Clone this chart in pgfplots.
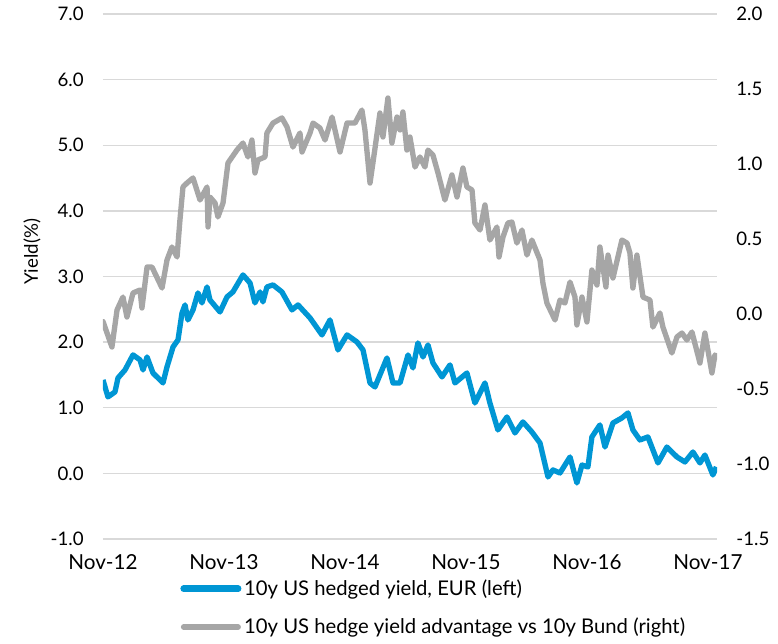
\documentclass[border=0pt]{standalone}
\usepackage{fontspec}
\setmainfont{Lato}
\usepackage{pgfplots}
\usepackage{pgfplotstable}
\pgfplotsset{compat=1.18}
\definecolor{cblue}{RGB}{0,150,212}
\definecolor{cgray}{RGB}{166,166,166}
\definecolor{cgrid}{RGB}{217,217,217}

\pgfplotstableread{
t v
0.000 1.424
0.041 1.165
0.099 1.241
0.124 1.454
0.182 1.576
0.248 1.805
0.306 1.729
0.331 1.576
0.364 1.774
0.413 1.530
0.496 1.378
0.529 1.622
0.579 1.927
0.620 2.034
0.653 2.445
0.678 2.567
0.702 2.338
0.744 2.491
0.785 2.750
0.818 2.598
0.860 2.841
0.884 2.643
0.967 2.460
1.025 2.689
1.074 2.765
1.157 3.024
1.215 2.902
1.256 2.598
1.298 2.765
1.322 2.613
1.355 2.841
1.405 2.872
1.479 2.765
1.562 2.491
1.612 2.567
1.711 2.369
1.810 2.110
1.876 2.338
1.942 1.881
2.017 2.110
2.099 2.003
2.149 1.881
2.207 1.378
2.248 1.317
2.347 1.759
2.397 1.378
2.455 1.378
2.521 1.805
2.562 1.607
2.603 1.988
2.645 1.774
2.686 1.957
2.727 1.683
2.802 1.470
2.868 1.653
2.909 1.378
3.008 1.530
3.074 1.073
3.157 1.378
3.198 1.073
3.264 0.662
3.339 0.860
3.405 0.616
3.471 0.784
3.545 0.631
3.612 0.463
3.678 -0.055
3.719 0.052
3.777 0.006
3.860 0.250
3.917 -0.146
3.959 0.128
4.008 0.098
4.041 0.555
4.107 0.738
4.149 0.402
4.215 0.768
4.289 0.845
4.339 0.921
4.380 0.662
4.438 0.509
4.504 0.555
4.587 0.159
4.661 0.402
4.744 0.250
4.810 0.174
4.876 0.326
4.934 0.159
4.975 0.280
5.041 -0.024
5.070 0.098
}\bluedata

\pgfplotstableread{
t v
0.000 -0.05
0.074 -0.22
0.116 0.027
0.165 0.113
0.198 -0.02
0.248 0.14
0.306 0.16
0.322 0.04
0.364 0.313
0.405 0.313
0.488 0.173
0.529 0.36
0.570 0.447
0.612 0.38
0.636 0.627
0.661 0.847
0.694 0.873
0.744 0.907
0.802 0.76
0.860 0.847
0.868 0.58
0.884 0.78
0.926 0.74
0.950 0.647
0.992 0.74
1.033 1.007
1.107 1.093
1.157 1.14
1.198 1.047
1.231 1.16
1.256 0.94
1.281 1.027
1.339 1.047
1.355 1.207
1.405 1.273
1.479 1.307
1.521 1.247
1.570 1.113
1.628 1.207
1.645 1.08
1.711 1.207
1.736 1.273
1.793 1.24
1.835 1.16
1.893 1.313
1.959 1.08
2.017 1.273
2.083 1.273
2.140 1.36
2.165 1.227
2.207 0.873
2.231 1.007
2.289 1.34
2.314 1.18
2.355 1.44
2.388 1.14
2.430 1.313
2.455 1.227
2.479 1.347
2.512 1.093
2.537 1.18
2.579 0.98
2.620 1.047
2.661 0.98
2.686 1.093
2.727 1.06
2.769 0.94
2.826 0.76
2.884 0.927
2.926 0.78
2.975 0.973
3.008 0.847
3.050 0.827
3.074 0.607
3.116 0.56
3.157 0.727
3.198 0.493
3.256 0.58
3.273 0.38
3.306 0.513
3.347 0.607
3.380 0.613
3.421 0.473
3.463 0.56
3.504 0.393
3.545 0.493
3.612 0.36
3.636 0.207
3.669 0.073
3.736 -0.04
3.777 0.093
3.818 0.073
3.860 0.213
3.901 0.113
3.917 -0.073
3.959 0.113
4.000 -0.053
4.041 0.293
4.083 0.193
4.107 0.447
4.157 0.18
4.174 0.393
4.215 0.24
4.289 0.493
4.331 0.473
4.355 0.407
4.380 0.173
4.413 0.393
4.463 0.113
4.521 0.093
4.545 -0.087
4.603 0.007
4.628 -0.087
4.702 -0.26
4.744 -0.153
4.785 -0.127
4.826 -0.173
4.868 -0.12
4.934 -0.327
4.975 -0.127
5.033 -0.393
5.058 -0.273
5.074 -0.287
}\graydata

\pgfplotsset{
  common/.style={
    scale only axis, width=460.5pt, height=393.75pt,
    xmin=0, xmax=5.075,
    at={(0pt,0pt)}, anchor=south west,
    axis line style={draw=none},
    major tick length=0pt,
    /pgf/number format/assume math mode=true,
    /pgf/number format/fixed,
    /pgf/number format/fixed zerofill,
    /pgf/number format/precision=1,
  },
}

\begin{document}
\begin{tikzpicture}[font=\fontsize{14}{17}\selectfont]
\path[use as bounding box] (-77.25pt,-78pt) rectangle (506.25pt,404.25pt);
\begin{axis}[common,
  ymin=-1, ymax=7, ytick={-1,0,...,7},
  xtick={0,1,2,3,4,5},
  xticklabels={Nov-12,Nov-13,Nov-14,Nov-15,Nov-16,Nov-17},
  xticklabel style={yshift=-8pt, font=\fontsize{15.5}{18}\selectfont},
  yticklabel style={xshift=-11pt},
  ymajorgrids, grid style={line width=1.1pt, color=cgrid},
  ylabel={Yield(\%)},
  ylabel style={at={(axis description cs:-0.1156,0.547)}, anchor=center},
]
\addplot[cblue, line width=4pt, line join=round] table[x=t,y=v]{\bluedata};
\end{axis}
\begin{axis}[common,
  ymin=-1.5, ymax=2, ytick={-1.5,-1,...,2},
  axis x line=none, axis y line*=right,
  yticklabel style={xshift=11pt},
  legend style={at={(rel axis cs:0.126,-0.072)}, anchor=north west, draw=none, fill=none,
    inner sep=0pt, outer sep=0pt, row sep=11pt,
    font=\fontsize{15.2}{18}\selectfont,
    nodes={inner sep=2pt, text depth=0.2em}, cells={anchor=west}},
  legend image code/.code={\draw[#1] (0pt,0pt) -- (41pt,0pt);},
]
\addlegendimage{cblue, line width=4.8pt, line cap=round}
\addlegendentry{10y US hedged yield, EUR (left)}
\addplot[cgray, line width=4pt, line join=round, line cap=round] table[x=t,y=v]{\graydata};
\addlegendentry{10y US hedge yield advantage vs 10y Bund (right)}
\end{axis}
\end{tikzpicture}
\end{document}
